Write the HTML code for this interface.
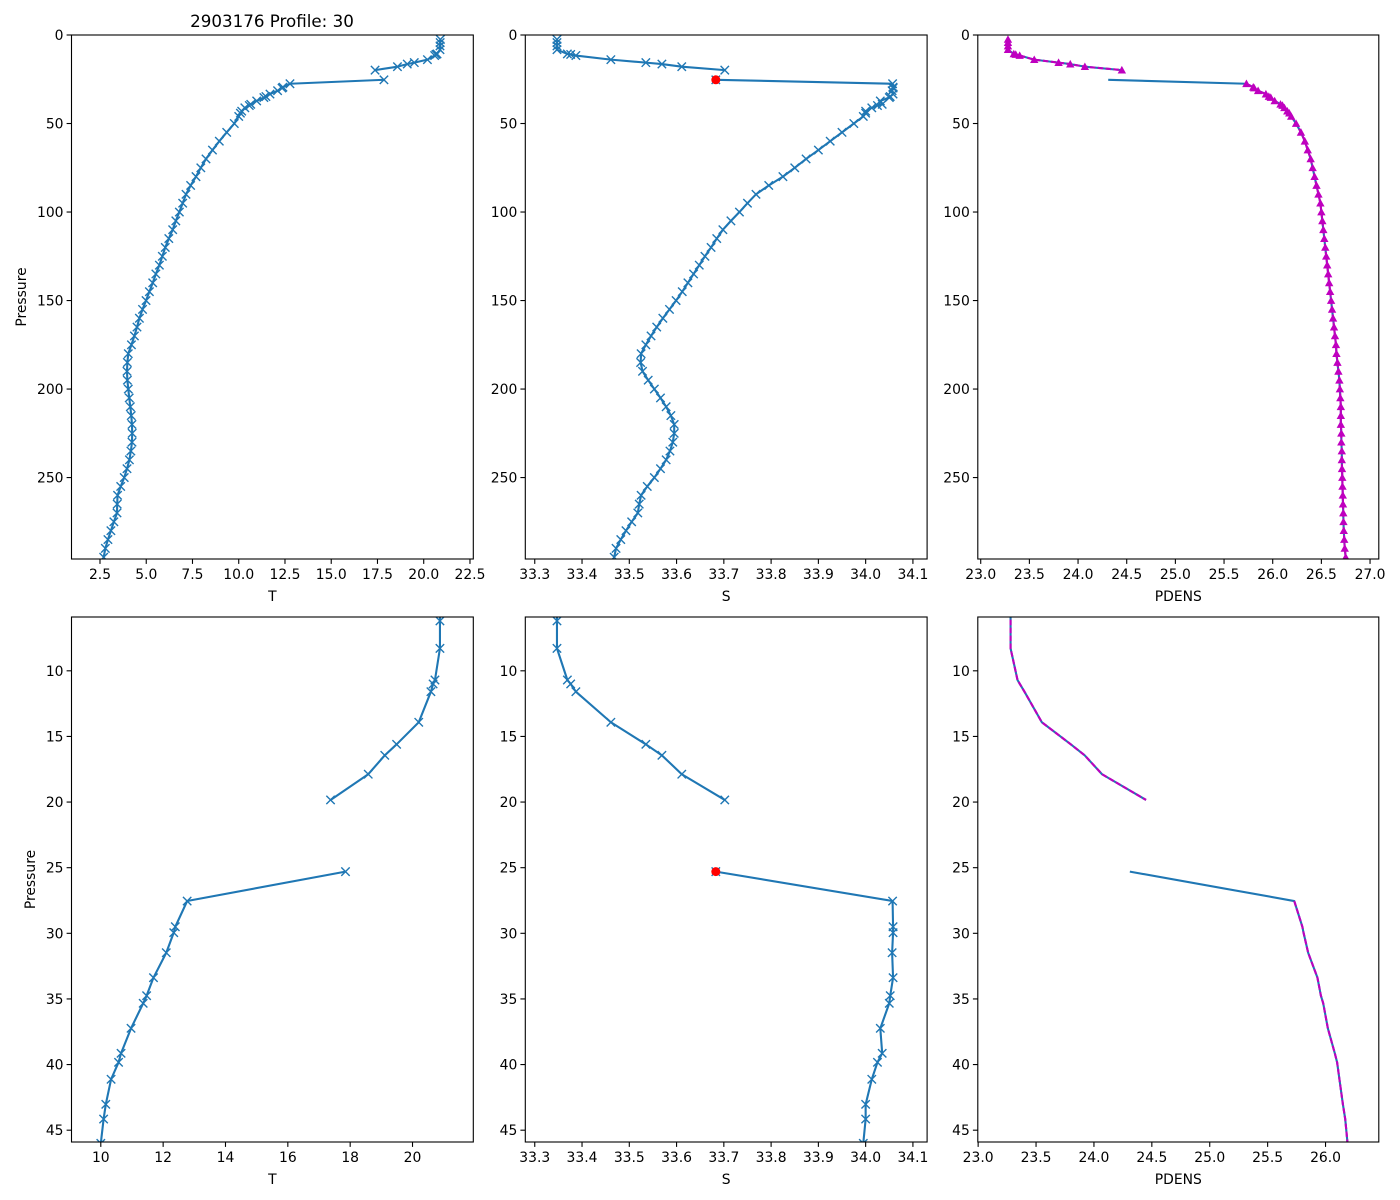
<!DOCTYPE html>
<html><head><meta charset="utf-8"><title>2903176 Profile: 30</title>
<style>
html,body{margin:0;padding:0;background:#fff;overflow:hidden;width:1400px;height:1200px;}
svg{display:block;overflow:hidden;}
svg text{font-family:"DejaVu Sans","Liberation Sans",sans-serif;fill:#000;}
</style></head>
<body>
<svg id="fig" width="1400" height="1200" viewBox="0 0 1400 1200" xmlns="http://www.w3.org/2000/svg">
<rect x="0" y="0" width="1400" height="1200" fill="#fff"/>
<text x="272" y="27" font-size="16.7" text-anchor="middle">2903176 Profile: 30</text>
</svg>
<script>
const pressure = [2.5,4.3,6.2,8.29,10.7,11.0,11.59,13.92,15.6,16.44,17.88,19.84,22.6,25.3,27.54,29.5,29.95,31.48,33.38,34.75,35.33,37.24,39.14,39.83,41.12,43.03,44.15,
46,50,55,60,65,70,75,80,85,90,95,100,105,110,115,120,125,130,135,140,145,150,155,160,165,170,175,180,185,190,195,200,205,210,215,220,225,230,235,240,245,250,255,260,265,270,275,280,285,290,295];
const temperature = [20.9,20.89,20.88,20.88,20.72,20.66,20.59,20.2,19.49,19.11,18.58,17.37,null,17.85,12.77,12.39,12.34,12.1,11.69,11.47,11.36,10.97,10.65,10.57,10.33,10.16,10.09,
10.0,9.76,9.35,8.95,8.58,8.23,7.95,7.69,7.4,7.15,6.97,6.79,6.6,6.43,6.22,6.03,5.87,5.71,5.52,5.35,5.17,4.99,4.8,4.63,4.5,4.36,4.2,4.03,3.98,3.96,3.98,4.03,4.08,4.14,4.19,4.23,4.24,4.23,4.17,4.09,3.96,3.81,3.62,3.45,3.43,3.42,3.25,3.09,2.93,2.79,2.7];
const salinity = [33.347,33.347,33.347,33.347,33.369,33.376,33.387,33.461,33.535,33.569,33.611,33.702,null,33.683,34.057,34.058,34.058,34.056,34.058,34.052,34.05,34.031,34.035,34.025,34.013,34.0,34.0,
33.995,33.975,33.95,33.925,33.9,33.874,33.85,33.825,33.795,33.768,33.75,33.733,33.715,33.698,33.685,33.673,33.66,33.648,33.636,33.624,33.612,33.599,33.585,33.571,33.558,33.546,33.535,33.525,33.524,33.528,33.54,33.553,33.566,33.578,33.588,33.595,33.595,33.592,33.586,33.578,33.566,33.553,33.538,33.525,33.521,33.518,33.505,33.493,33.482,33.472,33.468];
const pdens = [23.28,23.28,23.28,23.28,23.34,23.36,23.40,23.55,23.8,23.92,24.07,24.45,null,24.31,25.73,25.80,25.81,25.85,25.93,25.96,25.98,26.02,26.08,26.10,26.12,26.15,26.17,
26.19,26.24,26.29,26.33,26.36,26.39,26.41,26.43,26.45,26.47,26.49,26.5,26.51,26.52,26.53,26.54,26.55,26.56,26.57,26.58,26.59,26.6,26.61,26.62,26.63,26.64,26.65,26.655,26.665,26.675,26.685,26.69,26.695,26.7,26.7,26.7,26.705,26.705,26.71,26.71,26.712,26.715,26.717,26.72,26.722,26.725,26.727,26.73,26.735,26.74,26.75];
const badIndex = [13];
const tTicksTop = [2.5,5.0,7.5,10.0,12.5,15.0,17.5,20.0,22.5];
const tTicksBottom = [10,12,14,16,18,20];
const sTicks = [33.3,33.4,33.5,33.6,33.7,33.8,33.9,34.0,34.1];
const pdTicksTop = [23.0,23.5,24.0,24.5,25.0,25.5,26.0,26.5,27.0];
const pdTicksBottom = [23.0,23.5,24.0,24.5,25.0,25.5,26.0];
const pTicksTop = [0,50,100,150,200,250];
const pTicksBottom = [10,15,20,25,30,35,40,45];

const NS = 'http://www.w3.org/2000/svg';
const svg = document.getElementById('fig');
const BLUE = '#1f77b4', MAG = '#bf00bf';
function mk(tag, attrs, parent){const e=document.createElementNS(NS,tag);for(const k in attrs)e.setAttribute(k,attrs[k]);(parent||svg).appendChild(e);return e;}

const cols = [[71.5,473.3],[525.3,927.1],[977.8,1378.8]];
const rows = [[35,559],[617,1142]];
const panels = [
 {r:0,c:0,var:'T',xl:[0.96,22.68],yl:[0,296],xt:tTicksTop,yt:pTicksTop,xd:1,name:'temperature-top'},
 {r:0,c:1,var:'S',xl:[33.28,34.13],yl:[0,296],xt:sTicks,yt:pTicksTop,xd:1,name:'salinity-top'},
 {r:0,c:2,var:'PDENS',xl:[22.97,27.09],yl:[0,296],xt:pdTicksTop,yt:pTicksTop,xd:1,name:'pdens-top'},
 {r:1,c:0,var:'T',xl:[9.06,21.95],yl:[5.9,45.9],xt:tTicksBottom,yt:pTicksBottom,xd:0,name:'temperature-bottom'},
 {r:1,c:1,var:'S',xl:[33.28,34.13],yl:[5.9,45.9],xt:sTicks,yt:pTicksBottom,xd:1,name:'salinity-bottom'},
 {r:1,c:2,var:'PDENS',xl:[22.997,26.46],yl:[5.9,45.9],xt:pdTicksBottom,yt:pTicksBottom,xd:1,name:'pdens-bottom'}
];

function segments(vals, X, Y, skip){
  const segs=[];let cur=[];
  pressure.forEach((pr,i)=>{
    if(vals[i]===null || (skip && skip.includes(i))){if(cur.length)segs.push(cur);cur=[];return;}
    cur.push(X(vals[i]).toFixed(2)+','+Y(pr).toFixed(2));
  });
  if(cur.length)segs.push(cur);
  return segs;
}

panels.forEach((p,pi)=>{
  const [x0,x1]=cols[p.c], [y0,y1]=rows[p.r];
  const X=v=>x0+(v-p.xl[0])/(p.xl[1]-p.xl[0])*(x1-x0);
  const Y=v=>y0+(v-p.yl[0])/(p.yl[1]-p.yl[0])*(y1-y0);
  const g=mk('g',{});
  
  
  const cp=mk('clipPath',{id:'clip'+pi},g);
  mk('rect',{x:x0,y:y0,width:x1-x0,height:y1-y0},cp);
  const plot=mk('g',{'clip-path':'url(#clip'+pi+')'},g);
  const vals = p.var==='T'?temperature:(p.var==='S'?salinity:pdens);
  segments(vals,X,Y,null).forEach(s=>{
    const line=mk('polyline',{points:s.join(' '),fill:'none',stroke:BLUE,'stroke-width':2.1,'stroke-linejoin':'round'},plot);
    
    
  });
  if(p.var==='T'||p.var==='S'){
    pressure.forEach((pr,i)=>{
      if(vals[i]===null)return;
      const cx=X(vals[i]),cy=Y(pr),d=4.2;
      const m=mk('path',{d:`M${cx-d},${cy-d}L${cx+d},${cy+d}M${cx-d},${cy+d}L${cx+d},${cy-d}`,stroke:BLUE,'stroke-width':1.4,fill:'none'},plot);
      
      
    });
  }
  if(p.var==='S'){
    badIndex.forEach(i=>{
      const c=mk('circle',{cx:X(vals[i]),cy:Y(pressure[i]),r:4.5,fill:'#ff0000'},plot);
      
      
    });
  }
  if(p.var==='PDENS'){
    segments(vals,X,Y,badIndex).forEach(s=>{
      const ml=mk('polyline',{points:s.join(' '),fill:'none',stroke:MAG,'stroke-width':2.1,'stroke-dasharray':'5.5,2.4'},plot);
      
      
    });
    if(p.r===0){
      pressure.forEach((pr,i)=>{
        if(vals[i]===null||badIndex.includes(i))return;
        const cx=X(vals[i]),cy=Y(pr),d=4.2;
        const t=mk('path',{d:`M${cx},${cy-d}L${cx+d},${cy+d*0.8}L${cx-d},${cy+d*0.8}Z`,fill:MAG},plot);
        
        
      });
    }
  }
  const fr=mk('rect',{x:x0,y:y0,width:x1-x0,height:y1-y0,fill:'none',stroke:'#000','stroke-width':1.1},g);
  
  
  p.xt.forEach(v=>{
    const x=X(v);
    mk('line',{x1:x,x2:x,y1:y1,y2:y1+4.9,stroke:'#000','stroke-width':1.1},g);
    const t=mk('text',{x:x,y:y1+20,'font-size':13.9,'text-anchor':'middle'},g);
    t.textContent=p.xd?v.toFixed(1):String(v);
    
    
  });
  p.yt.forEach(v=>{
    const y=Y(v);
    mk('line',{x1:x0-4.9,x2:x0,y1:y,y2:y,stroke:'#000','stroke-width':1.1},g);
    const t=mk('text',{x:x0-8,y:y+5,'font-size':13.9,'text-anchor':'end'},g);
    t.textContent=String(v);
    
    
  });
  const xl=mk('text',{x:(x0+x1)/2,y:y1+42,'font-size':13.9,'text-anchor':'middle'},g);
  xl.textContent=p.var;
  
  
  if(p.c===0){
    const cx=p.r===0?26:35, cy=(y0+y1)/2;
    const yl=mk('text',{x:cx,y:cy,'font-size':13.9,'text-anchor':'middle',transform:`rotate(-90 ${cx} ${cy})`},g);
    yl.textContent='Pressure';
    
    
  }
});
</script>
</body></html>
